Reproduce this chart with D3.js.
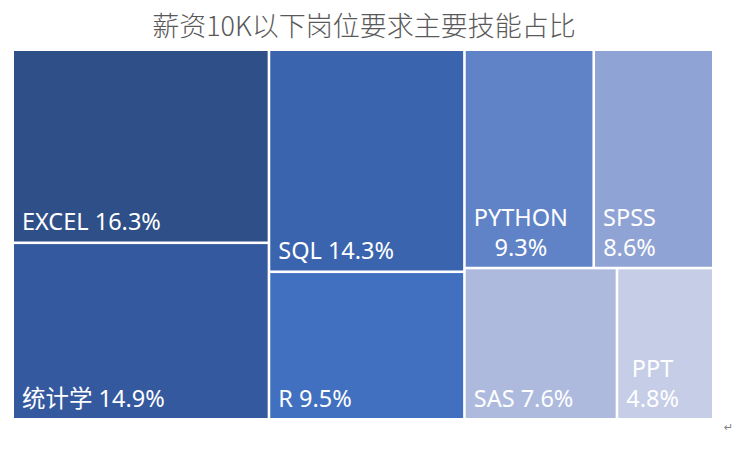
<!DOCTYPE html>
<html>
<head>
<meta charset="utf-8">
<script src="https://cdn.jsdelivr.net/npm/d3@7"></script>
<style>
  body { margin: 0; background: #fff; }
</style>
</head>
<body>
<script>
// data
var title = '薪资10K以下岗位要求主要技能占比';
var skills = ['EXCEL', '统计学', 'SQL', 'R', 'PYTHON', 'SPSS', 'SAS', 'PPT'];
var shares = [16.3, 14.9, 14.3, 9.5, 9.3, 8.6, 7.6, 4.8];

// one fill per cell, darkest for the biggest
var palette = ['#2F4F88', '#35599F', '#3B64AE', '#4170C0', '#6083C8', '#8FA3D4', '#ADBADE', '#C6CDE6'];

var width = 748, height = 465;

var svg = d3.select('body').append('svg')
    .attr('width', width)
    .attr('height', height);

svg.append('text')
    .attr('x', 364)
    .attr('y', 36)
    .attr('text-anchor', 'middle')
    .attr('font-family', '"Noto Sans CJK SC", sans-serif')
    .attr('font-weight', 300)
    .attr('font-size', 27)
    .attr('fill', '#595959')
    .text(title);

var root = d3.hierarchy({
        children: skills.map(function (s, i) { return { name: s, value: shares[i], idx: i }; })
    })
    .sum(function (d) { return d.value || 0; })
    .sort(function (a, b) { return b.value - a.value; });

d3.treemap()
    .tile(d3.treemapSquarify.ratio(1))
    .size([698, 367])
    .paddingInner(2.6)(root);

var plot = svg.append('g')
    .attr('transform', 'translate(14,51)');

var cell = plot.selectAll('g.cell')
    .data(root.leaves())
    .enter().append('g')
    .attr('class', 'cell');

cell.append('rect')
    .attr('x', function (d) { return d.x0; })
    .attr('y', function (d) { return d.y0; })
    .attr('width', function (d) { return d.x1 - d.x0; })
    .attr('height', function (d) { return d.y1 - d.y0; })
    .attr('fill', function (d) { return palette[d.data.idx]; });

var pad = 8;
var lineH = 30;

cell.each(function (d) {
    var g = d3.select(this);
    var name = d.data.name;
    var val = d3.format('.1f')(d.data.value) + '%';
    var t = g.append('text')
        .attr('font-family', '"Noto Sans", "Noto Sans CJK SC", sans-serif')
        .attr('font-size', 23.5)
        .attr('fill', '#fff')
        .attr('x', d.x0 + pad)
        .attr('y', d.y1 - 11)
        .text(name + ' ' + val);

    // wrap into two centred lines when the label does not fit
    if (t.node().getComputedTextLength() > d.x1 - d.x0 - 2 * pad) {
        t.text(null);
        var a = t.append('tspan').text(name);
        var b = t.append('tspan').text(val);
        var w = Math.max(a.node().getComputedTextLength(), b.node().getComputedTextLength());
        var cx = d.x0 + Math.min(pad, (d.x1 - d.x0 - w) / 4) + w / 2;
        t.attr('text-anchor', 'middle');
        a.attr('x', cx).attr('y', d.y1 - 11 - lineH);
        b.attr('x', cx).attr('y', d.y1 - 11);
    }
});

// paragraph mark left over from the document
svg.append('text')
    .attr('x', 724)
    .attr('y', 431)
    .attr('font-family', 'DejaVu Sans, sans-serif')
    .attr('font-size', 11)
    .attr('fill', '#7f7f7f')
    .text('↵');
</script>
</body>
</html>
